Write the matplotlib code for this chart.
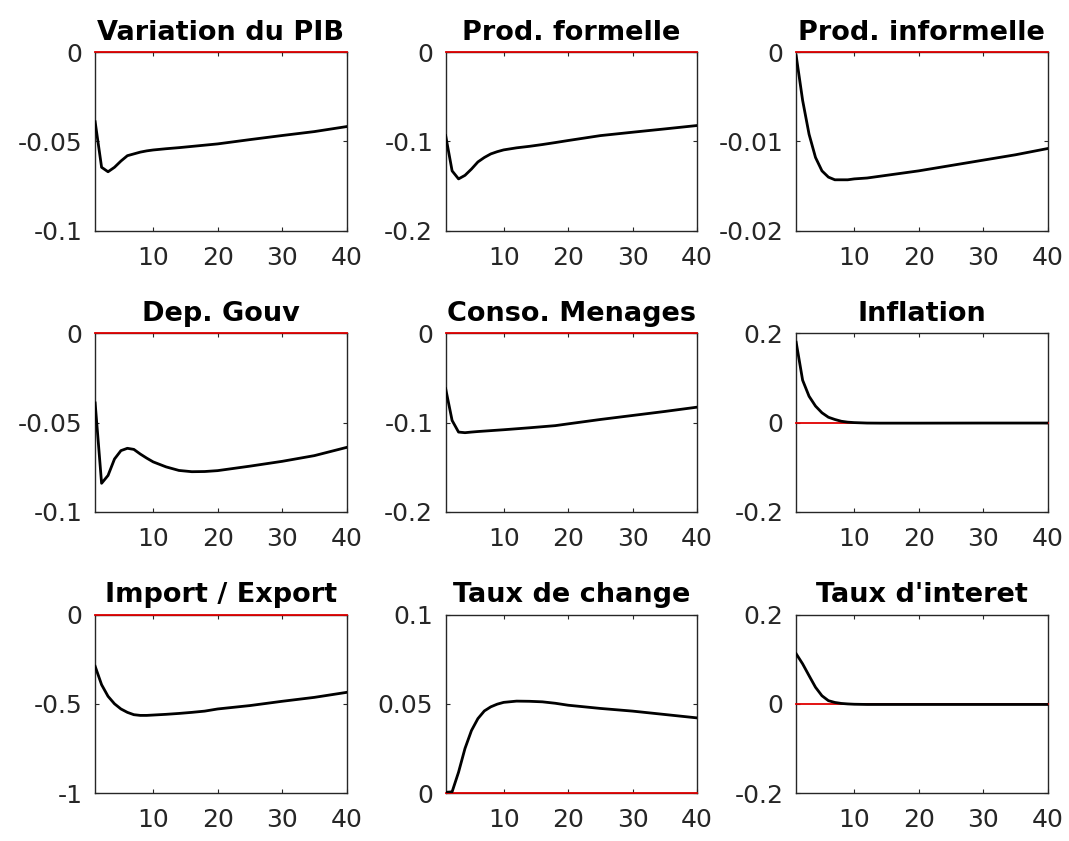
import matplotlib
matplotlib.use("Agg")
import matplotlib.pyplot as plt

# ── Style (MATLAB / Dynare look) ─────────────────────────────────────────────
plt.rcParams.update({
    "font.family": ["DejaVu Sans"],
    "font.size": 18,
    "axes.edgecolor": "#262626",
    "axes.linewidth": 1.0,
    "xtick.direction": "in",
    "ytick.direction": "in",
    "xtick.top": True,
    "ytick.right": True,
    "xtick.major.size": 3,
    "ytick.major.size": 3,
    "xtick.color": "#262626",
    "ytick.color": "#262626",
})

# ── Data ─────────────────────────────────────────────────────────────────────
periods = [1, 2, 3, 4, 5, 6, 7, 8, 9, 10, 12, 14, 16, 18, 20, 25, 30, 35, 40]

pib = [-0.039, -0.0645, -0.067, -0.0645, -0.061, -0.058, -0.057, -0.056, -0.0553,
       -0.0548, -0.0541, -0.0535, -0.0528, -0.0521, -0.0514, -0.049, -0.0467,
       -0.0445, -0.0417]
formelle = [-0.0935, -0.133, -0.142, -0.138, -0.131, -0.123, -0.118, -0.114, -0.1115,
            -0.1095, -0.1072, -0.1055, -0.1035, -0.1013, -0.099, -0.0935, -0.0897,
            -0.086, -0.0822]
informelle = [-0.0004, -0.0054, -0.0092, -0.0118, -0.0133, -0.014, -0.0143, -0.0143,
              -0.0143, -0.0142, -0.0141, -0.0139, -0.0137, -0.0135, -0.0133, -0.0127,
              -0.0121, -0.0115, -0.0108]
dep_gouv = [-0.039, -0.084, -0.0796, -0.0704, -0.0657, -0.0644, -0.065, -0.0676,
            -0.0699, -0.072, -0.0748, -0.0768, -0.0775, -0.0774, -0.0769, -0.0744,
            -0.0717, -0.0685, -0.0639]
conso = [-0.062, -0.0976, -0.1106, -0.1113, -0.1106, -0.11, -0.1095, -0.109, -0.1085,
         -0.108, -0.1069, -0.1058, -0.1046, -0.1034, -0.1014, -0.0965,
         -0.092, -0.0875, -0.0827]
inflation = [0.18, 0.095, 0.059, 0.037, 0.022, 0.012, 0.007, 0.003, 0.001, 0.0,
             -0.001, -0.0012, -0.0012, -0.0012, -0.0012, -0.0011, -0.001, -0.001,
             -0.001]
imp_exp = [-0.29, -0.393, -0.458, -0.5, -0.529, -0.548, -0.561, -0.565, -0.565,
           -0.563, -0.559, -0.554, -0.548, -0.541, -0.529, -0.51, -0.486, -0.464,
           -0.436]
change = [0.0004, 0.0007, 0.0117, 0.025, 0.035, 0.0417, 0.046, 0.0483, 0.0498,
          0.0508, 0.0515, 0.0514, 0.0511, 0.0503, 0.0492, 0.0474, 0.0459, 0.044,
          0.0421]
interet = [0.112, 0.0895, 0.063, 0.037, 0.018, 0.007, 0.003, 0.0008, -0.0003,
           -0.001, -0.0015, -0.0015, -0.0015, -0.0015, -0.0015, -0.0015, -0.0015,
           -0.0015, -0.0015]

titles = ["Variation du PIB", "Prod. formelle", "Prod. informelle",
          "Dep. Gouv", "Conso. Menages", "Inflation",
          "Import / Export", "Taux de change", "Taux d'interet"]
series = [pib, formelle, informelle, dep_gouv, conso, inflation,
          imp_exp, change, interet]
ylims = [(-0.1, 0), (-0.2, 0), (-0.02, 0),
         (-0.1, 0), (-0.2, 0), (-0.2, 0.2),
         (-1, 0), (0, 0.1), (-0.2, 0.2)]
yticks = [[-0.1, -0.05, 0], [-0.2, -0.1, 0], [-0.02, -0.01, 0],
          [-0.1, -0.05, 0], [-0.2, -0.1, 0], [-0.2, 0, 0.2],
          [-1, -0.5, 0], [0, 0.05, 0.1], [-0.2, 0, 0.2]]
yticklabels = [["-0.1", "-0.05", "0"], ["-0.2", "-0.1", "0"], ["-0.02", "-0.01", "0"],
               ["-0.1", "-0.05", "0"], ["-0.2", "-0.1", "0"], ["-0.2", "0", "0.2"],
               ["-1", "-0.5", "0"], ["0", "0.05", "0.1"], ["-0.2", "0", "0.2"]]
xticks = [10, 20, 30, 40]

# ── Figure ───────────────────────────────────────────────────────────────────
fig, axes = plt.subplots(3, 3, figsize=(10.69, 8.41), dpi=100)
fig.subplots_adjust(left=0.089, right=0.980, bottom=0.057, top=0.938,
                    wspace=0.394, hspace=0.575)

for ax, title, y, yl, yt, ytl in zip(axes.flat, titles, series, ylims,
                                     yticks, yticklabels):
    ax.plot(periods, y, color="black", linewidth=2.0, zorder=4)
    ax.axhline(0, color="#e00000", linewidth=1.3, zorder=3, clip_on=False)
    ax.set_xlim(1, 40)
    ax.set_ylim(*yl)
    ax.set_xticks(xticks)
    ax.set_yticks(yt)
    ax.set_yticklabels(ytl)
    ax.tick_params(axis="x", pad=11, labelsize=18)
    ax.tick_params(axis="y", pad=9, labelsize=18)
    ax.set_title(title, fontsize=19.5, fontweight="bold", pad=9)

fig.savefig("out.png", dpi=100)
plt.close(fig)
